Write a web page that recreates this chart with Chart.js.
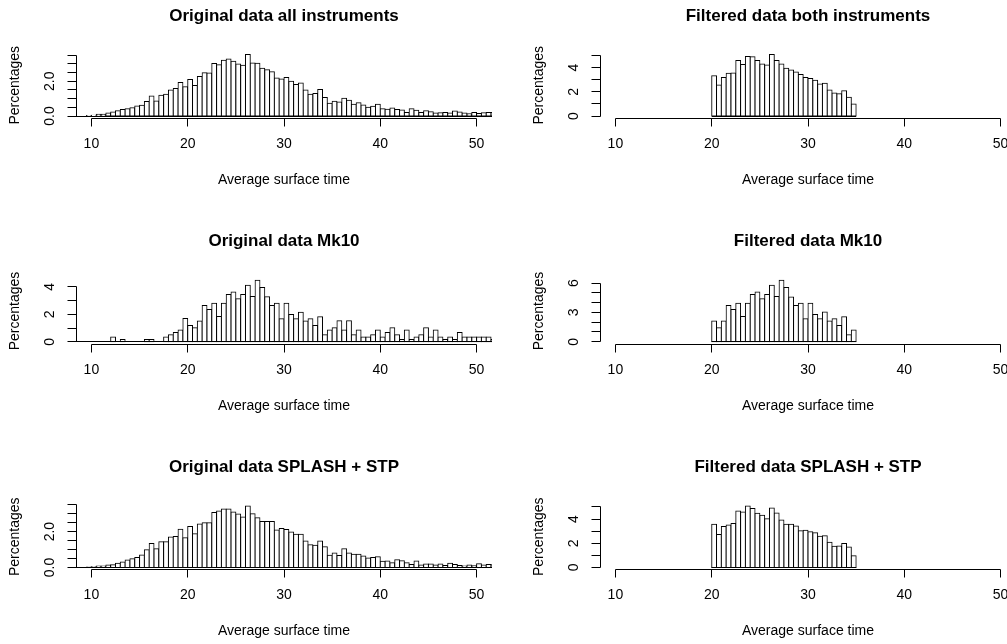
<!DOCTYPE html>
<html><head><meta charset="utf-8">
<script src="https://cdn.jsdelivr.net/npm/chart.js@4/dist/chart.umd.min.js"></script>
<style>
html,body{margin:0;padding:0;background:#fff;}
#wrap{position:relative;width:1007px;height:644px;overflow:hidden;}
canvas{position:absolute;left:0;top:0;}
</style>
</head><body>
<div id="wrap">
<canvas id="c0" width="1007" height="644"></canvas>
<canvas id="c1" width="1007" height="644"></canvas>
<canvas id="c2" width="1007" height="644"></canvas>
<canvas id="c3" width="1007" height="644"></canvas>
<canvas id="c4" width="1007" height="644"></canvas>
<canvas id="c5" width="1007" height="644"></canvas>
</div>
<script>
// ---- data (percentages per 0.5-wide bin) ----
const binWidth = 0.5;
const origStart = 8.0;   // first bin of the "Original" histograms
const filtStart = 20.0;  // first bin of the "Filtered" histograms

const origAll = [0,0,0,0.03,
 0.05,0.1,0.1,0.17,0.23,0.3,0.37,0.42,0.48,0.58,0.62,0.83,1.15,0.87,1.2,1.25,1.5,1.58,1.93,1.68,
 2.1,1.75,2.27,2.48,2.47,3.02,2.95,3.2,3.28,3.14,2.99,2.91,3.53,3.05,3.03,2.74,2.66,2.54,2.18,2.12,
 2.22,2.0,1.81,1.89,1.5,1.25,1.3,1.52,1.06,0.73,
 0.85,0.81,1.02,0.9,0.67,0.77,0.64,0.5,0.56,0.67,
 0.42,0.39,0.46,0.37,0.35,0.21,0.42,0.33,0.21,0.31,
 0.25,0.17,0.19,0.21,0.17,0.29,0.23,0.17,0.13,0.21,
 0.15,0.19,0.21,0.2];

const origMk10 = [0,0,0,0,
 0,0,0,0,0.34,0,0.17,0,0,0,0,0.17,0.17,0,0,0.34,0.51,0.68,0.85,1.7,
 1.19,1.02,1.51,2.65,2.36,2.82,1.85,2.82,3.45,3.64,3.14,3.45,4.13,3.31,4.49,3.96,3.28,2.65,2.82,1.68,
 2.82,1.99,1.68,2.16,1.51,1.68,1.19,1.82,0.51,0.85,
 1.02,1.53,0.85,1.53,0.51,0.85,0.34,0.34,0.51,0.85,
 0.34,0.68,1.02,0.51,0.17,0.85,0.17,0.34,0.51,1.02,
 0.34,0.85,0.34,0.17,0.34,0.17,0.68,0.34,0.34,0.34,
 0.34,0.34,0.34,0.17];

const origSplash = [0,0,0,0.02,
 0.04,0.08,0.08,0.13,0.15,0.23,0.3,0.41,0.49,0.56,0.7,0.98,1.34,1.04,1.43,1.43,1.7,1.73,2.13,1.66,
 2.28,1.88,2.43,2.49,2.5,3.07,3.15,3.26,3.26,3.09,2.98,2.81,3.43,3.0,2.77,2.56,2.56,2.56,2.09,2.17,
 2.11,1.98,1.85,1.85,1.47,1.26,1.24,1.47,1.15,0.68,
 0.81,0.66,1.04,0.81,0.73,0.73,0.64,0.53,0.55,0.6,
 0.34,0.36,0.26,0.43,0.38,0.26,0.17,0.36,0.13,0.19,
 0.19,0.13,0.19,0.11,0.23,0.17,0.11,0.08,0.13,0.09,
 0.21,0.13,0.17,0.15];

const filtBoth = [3.33,2.56,3.19,3.53,3.56,4.58,4.25,4.92,4.89,4.58,4.31,4.22,5.08,4.58,4.31,3.94,3.81,3.64,3.44,3.19,
 3.1,2.95,2.65,2.7,2.15,1.9,1.85,2.1,1.55,1.0];
const filtMk10 = [2.11,1.43,2.11,3.71,3.3,3.95,2.59,3.95,4.83,5.1,4.39,4.83,5.78,4.63,6.29,5.54,4.59,3.71,3.95,2.35,
 3.95,2.79,2.35,3.03,2.11,2.35,1.67,2.55,0.71,1.19];
const filtSplash = [3.56,2.72,3.39,3.5,3.64,4.67,4.58,5.08,4.86,4.47,4.31,4.03,4.92,4.5,3.92,3.56,3.56,3.42,3.03,3.08,
 2.94,2.86,2.58,2.61,2.08,1.75,1.78,1.97,1.69,0.97];

// ---- axes ----
const xTicks = [10, 20, 30, 40, 50];
const xAxisTitle = 'Average surface time';
const yAxisTitle = 'Percentages';
const yTicksHalf = [0, 0.5, 1, 1.5, 2, 2.5, 3, 3.5];
const yTicksFive = [0, 1, 2, 3, 4, 5];
const yTicksFour = [0, 1, 2, 3, 4];
const yTicksSix = [0, 1, 2, 3, 4, 5, 6];
const yLabelsHalf = ['0.0', '2.0'];   const yLabelValsHalf = [0, 2];
const yLabelsEven = ['0', '2', '4'];  const yLabelValsEven = [0, 2, 4];
const yLabelsThree = ['0', '3', '6']; const yLabelValsThree = [0, 3, 6];

const titles = ['Original data all instruments', 'Filtered data both instruments',
                'Original data Mk10', 'Filtered data Mk10',
                'Original data SPLASH + STP', 'Filtered data SPLASH + STP'];

// ---- layout (pixel geometry of the plot regions) ----
const W = 1007, H = 644;
const colLeft = [76, 600];
const plotW = 416;
const rowTop = [52.1, 277.8, 503.5];
const plotH = 66.4;
const xLim = [10, 50];
const FONT = '"Liberation Sans", Arial, Helvetica, sans-serif';

const panels = [
  {vals: origAll,    start: origStart, col: 0, row: 0, yt: yTicksHalf, yl: yLabelsHalf,  ylv: yLabelValsHalf},
  {vals: filtBoth,   start: filtStart, col: 1, row: 0, yt: yTicksFive, yl: yLabelsEven,  ylv: yLabelValsEven},
  {vals: origMk10,   start: origStart, col: 0, row: 1, yt: yTicksFour, yl: yLabelsEven,  ylv: yLabelValsEven},
  {vals: filtMk10,   start: filtStart, col: 1, row: 1, yt: yTicksSix,  yl: yLabelsThree, ylv: yLabelValsThree},
  {vals: origSplash, start: origStart, col: 0, row: 2, yt: yTicksHalf, yl: yLabelsHalf,  ylv: yLabelValsHalf},
  {vals: filtSplash, start: filtStart, col: 1, row: 2, yt: yTicksFive, yl: yLabelsEven,  ylv: yLabelValsEven},
];

function crisp(v){ return Math.round(v - 0.5) + 0.5; }

const rAxes = {
  id: 'rAxes',
  afterDatasetsDraw(chart, args, opts) {
    const p = opts.panel;
    const ctx = chart.ctx, a = chart.chartArea;
    const xs = chart.scales.x, ys = chart.scales.y;
    ctx.save();
    ctx.strokeStyle = '#000';
    ctx.lineWidth = 1;
    // baseline under the histogram (empty bins)
    const x0 = Math.max(a.left, xs.getPixelForValue(p.start));
    const x1 = Math.min(a.right, xs.getPixelForValue(p.start + p.vals.length * binWidth));
    const yb = crisp(ys.getPixelForValue(0));
    ctx.beginPath(); ctx.moveTo(x0, yb); ctx.lineTo(x1, yb); ctx.stroke();

    // x axis (R style: line from first to last tick, at bottom of plot region)
    const ya = crisp(a.bottom);
    const xa0 = xs.getPixelForValue(xTicks[0]), xa1 = xs.getPixelForValue(xTicks[xTicks.length-1]);
    ctx.beginPath(); ctx.moveTo(crisp(xa0), ya); ctx.lineTo(crisp(xa1), ya);
    xTicks.forEach(t => { const x = crisp(xs.getPixelForValue(t)); ctx.moveTo(x, ya); ctx.lineTo(x, ya + 8); });
    ctx.stroke();
    ctx.fillStyle = '#000';
    ctx.font = '14px ' + FONT;
    ctx.textAlign = 'center'; ctx.textBaseline = 'middle';
    xTicks.forEach(t => ctx.fillText(String(t), xs.getPixelForValue(t), ya + 26));
    ctx.fillText(xAxisTitle, (a.left + a.left + plotW) / 2, ya + 62);

    // y axis
    const xl = crisp(a.left);
    const yt0 = ys.getPixelForValue(p.yt[0]), yt1 = ys.getPixelForValue(p.yt[p.yt.length-1]);
    ctx.beginPath(); ctx.moveTo(xl, crisp(yt0)); ctx.lineTo(xl, crisp(yt1));
    p.yt.forEach(t => { const y = crisp(ys.getPixelForValue(t)); ctx.moveTo(xl, y); ctx.lineTo(xl - 9, y); });
    ctx.stroke();
    p.ylv.forEach((v, i) => {
      ctx.save();
      ctx.translate(a.left - 26, ys.getPixelForValue(v));
      ctx.rotate(-Math.PI / 2);
      ctx.fillText(p.yl[i], 0, 0);
      ctx.restore();
    });
    ctx.save();
    ctx.translate(a.left - 61, (a.top + a.bottom) / 2);
    ctx.rotate(-Math.PI / 2);
    ctx.fillText(yAxisTitle, 0, 0);
    ctx.restore();

    // main title
    ctx.font = 'bold 17px ' + FONT;
    ctx.textBaseline = 'alphabetic';
    ctx.fillText(p.title, (a.left + a.left + plotW) / 2, a.top - 31.5);
    ctx.restore();
  }
};

panels.forEach((p, i) => {
  p.title = titles[i];
  const left = colLeft[p.col];
  const right = Math.min(left + plotW, W);
  const top = rowTop[p.row];
  const M = Math.max(...p.vals);
  const ext = (xLim[1] - xLim[0]) * 0.04;
  const xmin = xLim[0] - ext;
  const xmax = xmin + (xLim[1] - xLim[0] + 2 * ext) * (right - left) / plotW;
  new Chart(document.getElementById('c' + i), {
    type: 'bar',
    data: {
      datasets: [{
        data: p.vals.map((v, k) => ({x: p.start + binWidth * (k + 0.5), y: v})),
        backgroundColor: '#ffffff',
        borderColor: '#000000',
        borderWidth: 1,
        borderSkipped: false,
        inflateAmount: 0.5,
        barPercentage: 1,
        categoryPercentage: 1,
        clip: 0
      }]
    },
    options: {
      responsive: false,
      animation: false,
      devicePixelRatio: 1,
      events: [],
      layout: {padding: {left: left, top: top, right: W - right, bottom: H - (top + plotH)}},
      plugins: {legend: {display: false}, tooltip: {enabled: false}, title: {display: false}, rAxes: {panel: p}},
      scales: {
        x: {type: 'linear', display: false, offset: false, min: xmin, max: xmax},
        y: {type: 'linear', display: false, min: -0.04 * M, max: 1.04 * M}
      }
    },
    plugins: [rAxes]
  });
});
</script>
</body></html>
